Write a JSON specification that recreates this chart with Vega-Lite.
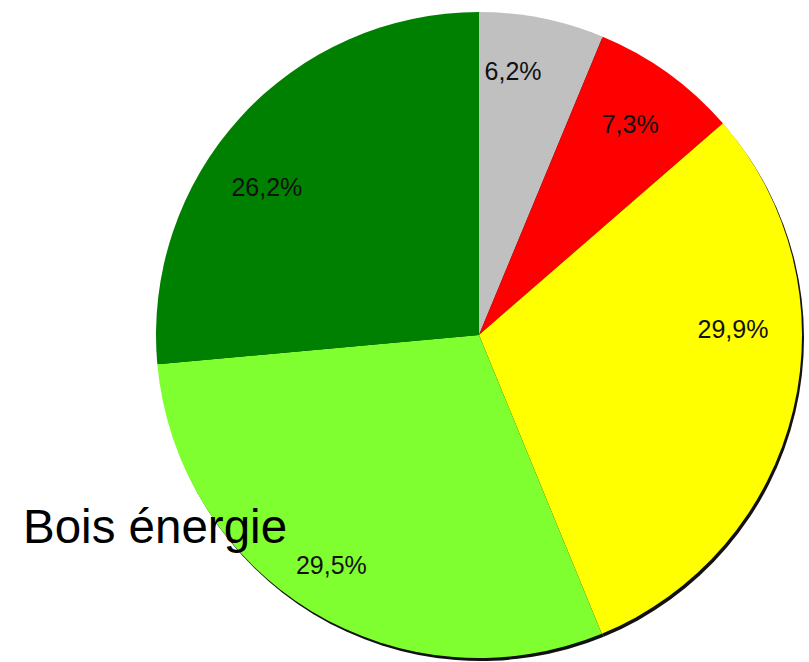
{
  "$schema": "https://vega.github.io/schema/vega-lite/v6.json",
  "width": 650,
  "height": 650,
  "autosize": {"type": "none"},
  "padding": {"left": 154, "top": 10, "right": 5, "bottom": 2},
  "background": "white",
  "title": {
    "text": "Bois énergie",
    "orient": "top",
    "anchor": "start",
    "frame": "group",
    "font": "Liberation Sans",
    "fontSize": 47.5,
    "fontWeight": "normal",
    "color": "black",
    "baseline": "alphabetic",
    "dx": -131,
    "dy": 584
  },
  "data": {
    "values": [
      {"cat": "Gris", "value": 6.2, "label": "6,2%", "o": 1},
      {"cat": "Rouge", "value": 7.3, "label": "7,3%", "o": 2},
      {"cat": "Jaune", "value": 29.9, "label": "29,9%", "o": 3},
      {"cat": "Vert clair", "value": 29.5, "label": "29,5%", "o": 4},
      {"cat": "Vert foncé", "value": 26.2, "label": "26,2%", "o": 5}
    ]
  },
  "transform": [
    {"stack": "value", "groupby": [], "sort": [{"field": "o", "order": "ascending"}], "as": ["v0", "v1"]}
  ],
  "encoding": {
    "theta": {"field": "v0", "type": "quantitative", "scale": {"domain": [0, 99.1], "zero": true, "nice": false}}
  },
  "layer": [
    {
      "mark": {"type": "arc", "radius": 323, "color": "#111111", "xOffset": 2, "yOffset": 3},
      "encoding": {"theta2": {"field": "v1"}}
    },
    {
      "mark": {"type": "arc", "radius": 323},
      "encoding": {
        "theta2": {"field": "v1"},
        "color": {
          "field": "cat",
          "type": "nominal",
          "scale": {
            "domain": ["Gris", "Rouge", "Jaune", "Vert clair", "Vert foncé"],
            "range": ["#C0C0C0", "#FF0000", "#FFFF00", "#80FF30", "#008000"]
          },
          "legend": null
        }
      }
    },
    {
      "transform": [{"filter": "datum.cat === 'Gris'"}],
      "mark": {"type": "text", "radius": 265, "thetaOffset": 0.129, "font": "Liberation Sans", "fontSize": 25, "color": "#111111"},
      "encoding": {"text": {"field": "label", "type": "nominal"}}
    },
    {
      "transform": [{"filter": "datum.cat === 'Rouge'"}],
      "mark": {"type": "text", "radius": 259, "thetaOffset": 0.230, "font": "Liberation Sans", "fontSize": 25, "color": "#111111"},
      "encoding": {"text": {"field": "label", "type": "nominal"}}
    },
    {
      "transform": [{"filter": "datum.cat === 'Jaune'"}],
      "mark": {"type": "text", "radius": 254, "thetaOffset": 0.696, "font": "Liberation Sans", "fontSize": 25, "color": "#111111"},
      "encoding": {"text": {"field": "label", "type": "nominal"}}
    },
    {
      "transform": [{"filter": "datum.cat === 'Vert clair'"}],
      "mark": {"type": "text", "radius": 274, "thetaOffset": 0.959, "font": "Liberation Sans", "fontSize": 25, "color": "#111111"},
      "encoding": {"text": {"field": "label", "type": "nominal"}}
    },
    {
      "transform": [{"filter": "datum.cat === 'Vert foncé'"}],
      "mark": {"type": "text", "radius": 258, "thetaOffset": 0.696, "font": "Liberation Sans", "fontSize": 25, "color": "#111111"},
      "encoding": {"text": {"field": "label", "type": "nominal"}}
    }
  ]
}
